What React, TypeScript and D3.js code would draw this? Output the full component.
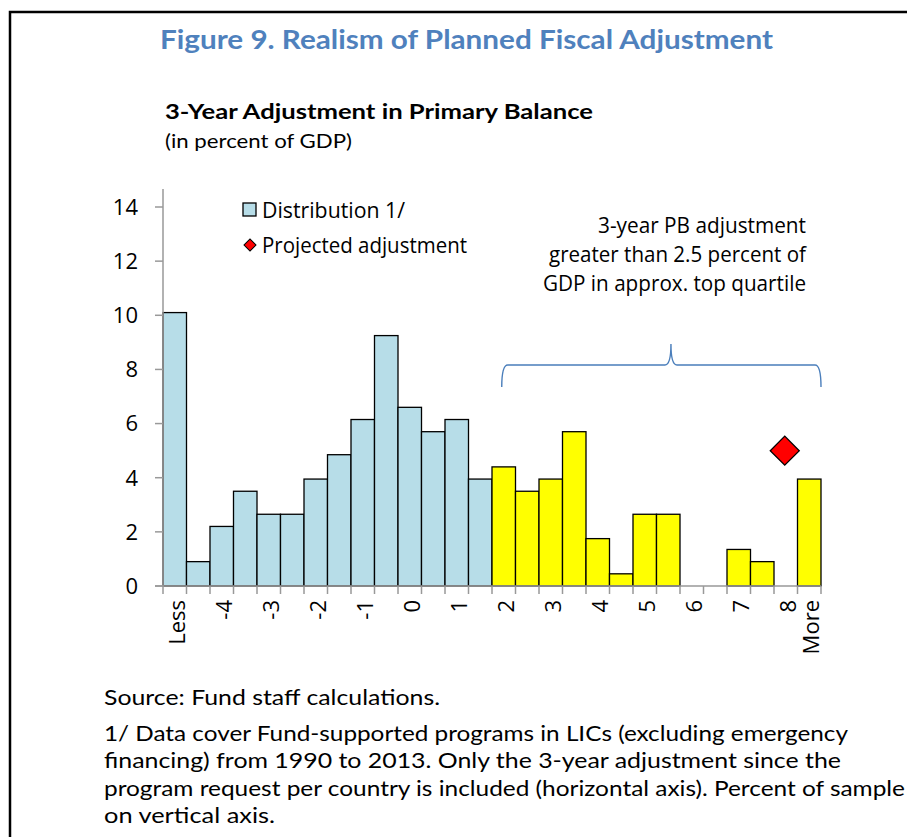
import React from "react";
import * as d3 from "d3";

const categories = ["Less", "-4.5", "-4", "-3.5", "-3", "-2.5", "-2", "-1.5", "-1", "-0.5", "0", "0.5", "1", "1.5", "2", "2.5", "3", "3.5", "4", "4.5", "5", "5.5", "6", "6.5", "7", "7.5", "8", "More"];
const distribution = [10.1, 0.9, 2.2, 3.5, 2.65, 2.65, 3.95, 4.85, 6.15, 9.25, 6.6, 5.7, 6.15, 3.95, 4.4, 3.5, 3.95, 5.7, 1.75, 0.45, 2.65, 2.65, 0, 0, 1.35, 0.9, 0, 3.95];
const topQuartileStart = "2";
const projected = [{ category: "8", value: 5.0 }];
const tickLabels = ["Less", "-4", "-3", "-2", "-1", "0", "1", "2", "3", "4", "5", "6", "7", "8", "More"];
const yTicks = [0, 2, 4, 6, 8, 10, 12, 14];
const annotationLines = ["3-year PB adjustment", "greater than 2.5 percent of", "GDP in approx. top quartile"];
const annotationWidths = [208, 257, 263];
const noteLines = [
  "Source: Fund staff calculations.",
  "1/ Data cover Fund-supported programs in LICs (excluding emergency",
  "financing) from 1990 to 2013. Only the 3-year adjustment since the",
  "program request per country is included (horizontal axis). Percent of sample",
  "on vertical axis.",
];
const noteWidths = [336, 744, 737, 801, 171];

const W = 907;
const H = 837;
const plotLeft = 163;
const plotRight = 821;
const plotBottom = 586;
const axisTop = 189;
const chartFont = "'Open Sans', 'Noto Sans', sans-serif";
const docFont = "Lato, 'Noto Sans', sans-serif";

export default function App() {
  const x = d3.scaleBand<string>().domain(categories).range([plotLeft, plotRight]).padding(0);
  const y = d3.scaleLinear().domain([0, 14]).range([plotBottom, 207]);
  const bw = x.bandwidth();
  const startIdx = categories.indexOf(topQuartileStart);

  const diamondBig = d3.symbol().type(d3.symbolSquare).size(420)()!;
  const diamondSmall = d3.symbol().type(d3.symbolSquare).size(72)()!;

  // brace
  const bx0 = (x(topQuartileStart) as number) + bw / 2 - 2;
  const bx1 = (x("More") as number) + bw;
  const bTip = bx0 + (bx1 - bx0) * 0.53;
  const yEnd = 387, yMid = 365, yTipY = 344;
  const r = 6;
  const brace = d3.path();
  brace.moveTo(bx0, yEnd);
  brace.quadraticCurveTo(bx0, yMid, bx0 + r, yMid);
  brace.lineTo(bTip - r, yMid);
  brace.quadraticCurveTo(bTip, yMid, bTip, yTipY);
  brace.quadraticCurveTo(bTip, yMid, bTip + r, yMid);
  brace.lineTo(bx1 - r, yMid);
  brace.quadraticCurveTo(bx1, yMid, bx1, yEnd);

  return (
    <svg width={W} height={H} style={{ display: "block", position: "absolute", left: 0, top: 0 }}>
      <rect x={0} y={0} width={W} height={H} fill="#fff" />
      {/* frame */}
      <path d={`M10,${H} V12 H${W}`} fill="none" stroke="#000" strokeWidth={2.5} />

      <text x={160} y={49} fontFamily={docFont} fontWeight={700} fontSize={26} fill="#4f81bd" textLength={613} lengthAdjust="spacingAndGlyphs">
        Figure 9. Realism of Planned Fiscal Adjustment
      </text>
      <text x={165} y={119} fontFamily={docFont} fontWeight={700} fontSize={21} fill="#000" textLength={428} lengthAdjust="spacingAndGlyphs">
        3-Year Adjustment in Primary Balance
      </text>
      <text x={165} y={148} fontFamily={docFont} fontSize={20} fill="#000" textLength={187} lengthAdjust="spacingAndGlyphs">
        (in percent of GDP)
      </text>

      {/* bars */}
      {categories.map((c, i) => (
        <rect
          key={c}
          x={x(c)}
          y={y(distribution[i])}
          width={bw}
          height={y(0) - y(distribution[i])}
          fill={i >= startIdx ? "#ffff00" : "#b7dde8"}
          stroke="#000"
          strokeWidth={1.3}
        />
      ))}

      {/* y axis */}
      <line x1={plotLeft} x2={plotLeft} y1={axisTop} y2={plotBottom} stroke="#999" strokeWidth={1.5} />
      {yTicks.map((t) => (
        <g key={t}>
          <line x1={plotLeft - 8} x2={plotLeft} y1={y(t)} y2={y(t)} stroke="#999" strokeWidth={1.5} />
          <text x={138} y={y(t)} dy="0.36em" textAnchor="end" fontFamily={chartFont} fontSize={22} fill="#000">
            {t}
          </text>
        </g>
      ))}

      {/* x axis */}
      <line x1={plotLeft - 8} x2={plotRight} y1={plotBottom} y2={plotBottom} stroke="#999" strokeWidth={1.5} />
      {categories.concat(["__end"]).map((c, i) => {
        const xx = i < categories.length ? (x(c) as number) : plotRight;
        return <line key={"t" + i} x1={xx} x2={xx} y1={plotBottom} y2={plotBottom + 8} stroke="#999" strokeWidth={1.5} />;
      })}
      {tickLabels.map((c) => {
        const cx = (x(c) as number) + bw / 2 + 2;
        return (
          <text
            key={"l" + c}
            transform={`translate(${cx},600) rotate(-90)`}
            textAnchor="end"
            dy="0.36em"
            fontFamily={chartFont}
            fontSize={22}
            fill="#000"
          >
            {c}
          </text>
        );
      })}

      {/* projected */}
      {projected.map((p) => (
        <path
          key={p.category}
          d={diamondBig}
          transform={`translate(${(x(p.category) as number) + bw / 2 - 1},${y(p.value)}) rotate(45)`}
          fill="#ff0000"
          stroke="#000"
          strokeWidth={1.3}
        />
      ))}

      {/* brace + annotation */}
      <path d={brace.toString()} fill="none" stroke="#4a7ebb" strokeWidth={1.4} />
      {annotationLines.map((l, i) => (
        <text
          key={l}
          x={806}
          y={225 + i * 29}
          dy="0.36em"
          textAnchor="end"
          fontFamily={chartFont}
          fontSize={21}
          fill="#000"
          textLength={annotationWidths[i]}
          lengthAdjust="spacingAndGlyphs"
        >
          {l}
        </text>
      ))}

      {/* legend */}
      <rect x={243} y={203} width={13} height={13} fill="#b7dde8" stroke="#000" strokeWidth={1.3} />
      <text x={262} y={210} dy="0.36em" fontFamily={chartFont} fontSize={21} fill="#000" textLength={143} lengthAdjust="spacingAndGlyphs">
        Distribution 1/
      </text>
      <path d={diamondSmall} transform="translate(250,245) rotate(45)" fill="#ff0000" stroke="#000" strokeWidth={1} />
      <text x={262} y={245} dy="0.36em" fontFamily={chartFont} fontSize={21} fill="#000" textLength={205} lengthAdjust="spacingAndGlyphs">
        Projected adjustment
      </text>

      {/* notes */}
      {noteLines.map((l, i) => (
        <text
          key={i}
          x={104}
          y={i === 0 ? 705 : 741 + (i - 1) * 27.3}
          fontFamily={docFont}
          fontSize={21}
          fill="#000"
          textLength={noteWidths[i]}
          lengthAdjust="spacingAndGlyphs"
        >
          {l}
        </text>
      ))}
    </svg>
  );
}
